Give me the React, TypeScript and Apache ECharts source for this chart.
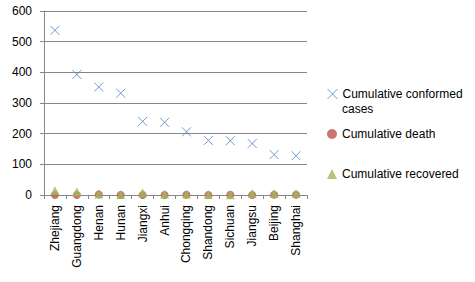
import React, { useEffect, useRef } from "react";
import * as echarts from "echarts";

const categories = ["Zhejiang", "Guangdong", "Henan", "Hunan", "Jiangxi", "Anhui", "Chongqing", "Shandong", "Sichuan", "Jiangsu", "Beijing", "Shanghai"];
const confirmed = [537, 393, 352, 332, 240, 237, 206, 178, 177, 168, 132, 128];
const deaths = [0, 0, 2, 0, 0, 0, 1, 0, 1, 0, 1, 1];
const recovered = [14, 11, 3, 2, 7, 3, 3, 2, 1, 5, 5, 5];
const yTicks = [0, 100, 200, 300, 400, 500, 600];

const FONT = "Liberation Sans";
const crossPath = "path://M0,0L10,10M10,0L0,10";

export default function App() {
  const ref = useRef<HTMLDivElement>(null);
  useEffect(() => {
    const chart = echarts.init(ref.current!, null, { renderer: "svg" });
    const legendText = { fontFamily: FONT, fontSize: 12, color: "#000" };
    chart.setOption({
      animation: false,
      textStyle: { fontFamily: FONT },
      grid: { left: 44, right: 168, top: 11, bottom: 87, containLabel: false },
      legend: [
        {
          data: [{ name: "Cumulative conformed cases", itemStyle: { borderWidth: 1, borderColor: "#4F81BD", color: "rgba(0,0,0,0)" } }],
          left: 327, top: 88, itemWidth: 10, itemHeight: 10, textStyle: legendText,
          formatter: () => "Cumulative conformed", padding: 0, itemGap: 0,
        },
        { data: ["Cumulative death"], left: 327, top: 128, itemWidth: 10, itemHeight: 10, textStyle: legendText, padding: 0 },
        { data: ["Cumulative recovered"], left: 327, top: 168, itemWidth: 10, itemHeight: 10, textStyle: legendText, padding: 0 },
      ],
      graphic: [
        { type: "text", left: 342, top: 103, style: { text: "cases", fontFamily: FONT, fontSize: 12, fill: "#000" } },
      ],
      xAxis: {
        type: "category",
        data: categories,
        boundaryGap: true,
        axisLine: { lineStyle: { color: "#868686" } },
        axisTick: { show: true, length: 4, lineStyle: { color: "#868686" } },
        axisLabel: { rotate: 90, fontSize: 12, color: "#000", margin: 10, fontFamily: FONT },
      },
      yAxis: {
        type: "value",
        min: 0,
        max: 600,
        interval: 100,
        axisLine: { show: true, lineStyle: { color: "#868686" } },
        axisTick: { show: true, length: 4, lineStyle: { color: "#868686" } },
        splitLine: { lineStyle: { color: "#868686" } },
        axisLabel: {
          fontSize: 12, color: "#000", margin: 12, fontFamily: FONT,
          formatter: (v: number) => (yTicks.includes(v) ? String(v) : ""),
        },
      },
      series: [
        {
          name: "Cumulative conformed cases",
          type: "scatter",
          data: confirmed,
          symbol: crossPath,
          symbolSize: 9,
          itemStyle: { color: "rgba(0,0,0,0)", borderColor: "#4F81BD", borderWidth: 1 },
        },
        {
          name: "Cumulative death",
          type: "scatter",
          data: deaths,
          symbol: "circle",
          symbolSize: 8,
          itemStyle: { color: "#C0504D" },
        },
        {
          name: "Cumulative recovered",
          type: "scatter",
          data: recovered,
          symbol: "triangle",
          symbolSize: 9,
          itemStyle: { color: "#9BBB59" },
        },
      ],
    });
    return () => chart.dispose();
  }, []);
  return <div ref={ref} style={{ width: 475, height: 282, position: "absolute", left: 0, top: 0 }} />;
}
